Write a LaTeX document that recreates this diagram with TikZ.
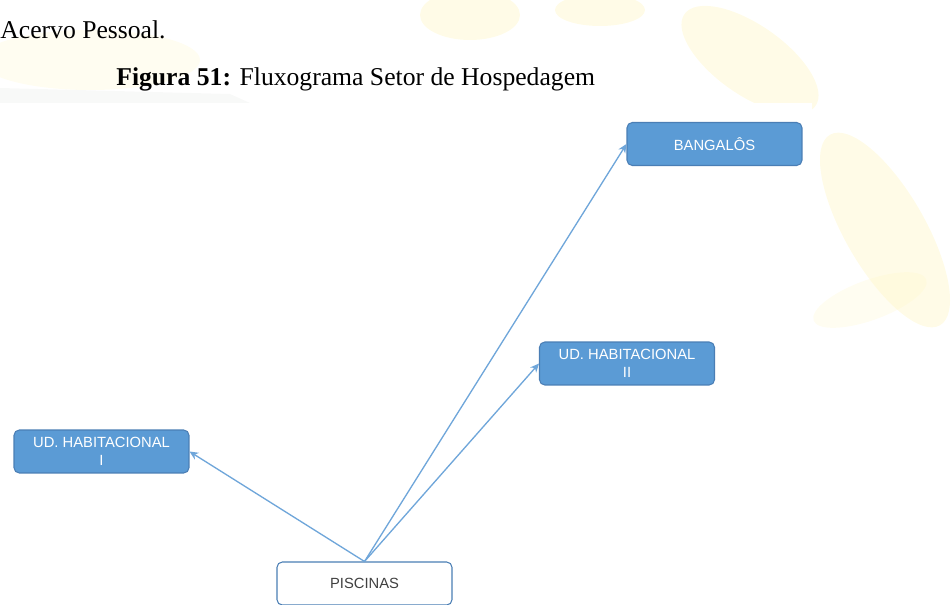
\documentclass[tikz,border=0pt]{standalone}
\usepackage{fontspec}
\setmainfont{Liberation Serif}
\newfontfamily\rotulo{Liberation Sans}
\usepackage{tikz}
\usetikzlibrary{arrows.meta}
\definecolor{azulcaixa}{HTML}{5B9BD5}
\definecolor{azulborda}{HTML}{4A7EB5}
\definecolor{azulseta}{HTML}{6FA6DA}
\definecolor{marcaagua}{HTML}{FFF0A0}
\definecolor{cinzafundo}{HTML}{E4E7E4}

\begin{document}
\begin{tikzpicture}[x=0.02cm,y=-0.02cm,>={Stealth[length=5pt,width=4.5pt]},
		setor/.style={draw=azulborda,fill=azulcaixa,rounded corners=3pt,line width=0.6pt,
			minimum width=3.5cm,minimum height=0.86cm,inner sep=1pt,align=center,
			text=white,font=\rotulo\fontsize{8.4}{10.2}\selectfont},
		origem/.style={setor,fill=white,text=black!75},
		ligacao/.style={->,azulseta,line width=0.75pt}]
	
	\useasboundingbox (0,0) rectangle (951,605);
	
	% marca d'agua ao fundo
	\begin{scope}[opacity=0.25]
		\fill[marcaagua] (470,15) ellipse (50 and 25);
		\fill[marcaagua] (600,10) ellipse (45 and 16);
		\fill[marcaagua,rotate around={-35:(750,60)}] (750,60) ellipse (80 and 35);
		\fill[marcaagua!60] (90,60) ellipse (110 and 30);
		\fill[marcaagua,rotate around={-60:(885,230)}] (885,230) ellipse (110 and 40);
		\fill[marcaagua!60,rotate around={20:(870,300)}] (870,300) ellipse (60 and 20);
		\fill[cinzafundo] (0,88) -- (230,94) -- (250,103) -- (0,103) -- cycle;
	\end{scope}
	\fill[white] (0,103) rectangle (812,605);
	
	% legenda
	\node[anchor=base west,inner sep=0,font=\fontsize{14.6}{17}\selectfont] (fonte) at (0,38) {Acervo Pessoal.};
	\node[anchor=base west,inner sep=0,font=\fontsize{14.6}{17}\selectfont] (titulo) at (116,85) {\textbf{Figura 51:} Fluxograma Setor de Hospedagem};
	
	% setores
	\node[setor] (bangalos) at (714.5,144) {BANGALÔS};
	\node[setor] (habII) at (627,363.5) {UD. HABITACIONAL\\II};
	\node[setor] (habI) at (101.5,451.5) {UD. HABITACIONAL\\I};
	\node[origem] (piscinas) at (364.5,583.5) {PISCINAS};
	
	% fluxos
	\draw[ligacao] (piscinas.north) -- (habI.east);
	\draw[ligacao] (piscinas.north) -- (habII.west);
	\draw[ligacao] (piscinas.north) -- (bangalos.west);
	
\end{tikzpicture}
\end{document}
